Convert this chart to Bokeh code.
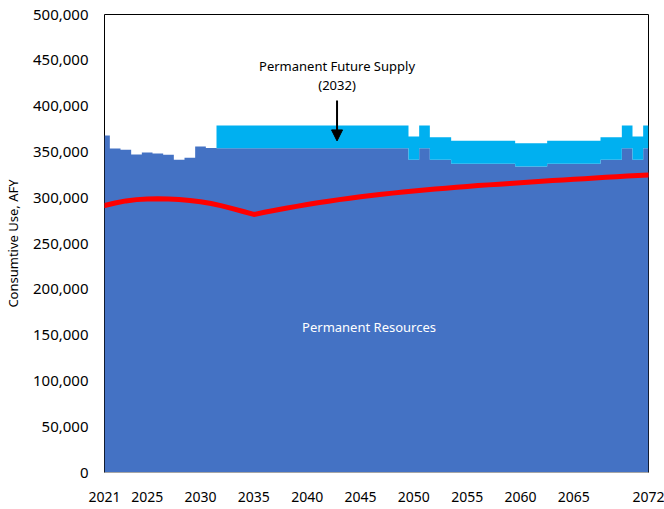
from bokeh.plotting import figure
from bokeh.models import Range1d, FixedTicker, NumeralTickFormatter, Arrow, NormalHead, Label, ColumnDataSource
from bokeh.embed import file_html
from bokeh.resources import INLINE

# ---- data ----
years = list(range(2021, 2073))
permanent = [368000, 353700, 352300, 347100, 349300, 348300, 346800, 341400, 343600, 355900, 354300,
             354000, 354000, 354000, 354000, 354000, 354000, 354000, 354000, 354000,
             354000, 354000, 354000, 354000, 354000, 354000, 354000, 354000, 354000,
             341400, 354000, 341400, 341400,
             337000, 337000, 337000, 337000, 337000, 337000,
             334100, 334100, 334100,
             337000, 337000, 337000, 337000, 337000,
             341400, 341400, 354000, 341400, 354000]
future = [0] * 11 + [24800] * 18 + [25400, 24800, 24700, 24700] + [25100] * 6 + [25400] * 3 + \
         [25100] * 5 + [24700, 24700, 24800, 25400, 24800]
demand = [291500, 294200, 296500, 297900, 298600, 298900, 298700, 298000, 297000, 295600,
          293600, 291100, 288100, 284900, 281700, 284100, 286300, 288400, 290500, 292500,
          294400, 296200, 297900, 299500, 301000, 302400, 303800, 305000, 306200, 307300,
          308400, 309400, 310400, 311400, 312300, 313200, 314000, 314800, 315600, 316400,
          317200, 318000, 318700, 319400, 320100, 320800, 321500, 322200, 322900, 323600,
          324200, 324800]
x_ticks = [2021, 2025, 2030, 2035, 2040, 2045, 2050, 2055, 2060, 2065, 2072]
y_ticks = list(range(0, 500001, 50000))

total = [a + b for a, b in zip(permanent, future)]
src = ColumnDataSource(dict(year=years, zero=[0] * len(years), perm=permanent, total=total, demand=demand))

FONT = "Noto Sans"

p = figure(width=664, height=509, output_backend="svg", toolbar_location=None,
           x_range=Range1d(2021, 2072), y_range=Range1d(0, 500000),
           min_border_left=104, min_border_right=16, min_border_top=14, min_border_bottom=37)

p.varea_step(x="year", y1="zero", y2="perm", step_mode="center", source=src, fill_color="#4472C4")
p.varea_step(x="year", y1="perm", y2="total", step_mode="center", source=src, fill_color="#00B0F0")
p.line(x="year", y="demand", source=src, line_color="#FF0000", line_width=5, line_cap="round", line_join="round")

p.xgrid.visible = False
p.ygrid.visible = False
p.outline_line_color = "black"
p.outline_line_width = 1

p.xaxis.ticker = FixedTicker(ticks=x_ticks)
p.yaxis.ticker = FixedTicker(ticks=y_ticks)
p.yaxis.formatter = NumeralTickFormatter(format="0,0")
for ax in (p.xaxis[0], p.yaxis[0]):
    ax.major_tick_out = 0
    ax.major_tick_in = 0
    ax.minor_tick_out = 0
    ax.minor_tick_in = 0
    ax.major_label_text_font = FONT
    ax.major_label_text_color = "black"
p.yaxis.major_label_text_font_size = "15px"
p.yaxis.major_label_standoff = 16
p.xaxis.major_label_text_font_size = "14px"
p.xaxis.major_label_standoff = 19
p.yaxis.axis_line_color = None
p.xaxis.axis_line_color = "#A6A6A6"
p.yaxis.axis_label = "Consumtive Use, AFY"
p.yaxis.axis_label_text_font = FONT
p.yaxis.axis_label_text_font_size = "13px"
p.yaxis.axis_label_text_font_style = "normal"
p.yaxis.axis_label_text_color = "black"
p.yaxis.axis_label_standoff = 8

p.add_layout(Label(x=2042.8, y=444000, text="Permanent Future Supply", text_font=FONT,
                   text_font_size="13px", text_align="center", text_baseline="middle", text_color="black"))
p.add_layout(Label(x=2042.8, y=422500, text="(2032)", text_font=FONT,
                   text_font_size="13px", text_align="center", text_baseline="middle", text_color="black"))
p.add_layout(Arrow(x_start=2042.8, y_start=406000, x_end=2042.8, y_end=362000, line_width=2, line_color="black",
                   end=NormalHead(size=11, fill_color="black", line_color="black")))
p.add_layout(Label(x=2045.8, y=159000, text="Permanent Resources", text_font=FONT,
                   text_font_size="13px", text_align="center", text_baseline="middle", text_color="white"))

open("out.html", "w").write(file_html(p, INLINE))
